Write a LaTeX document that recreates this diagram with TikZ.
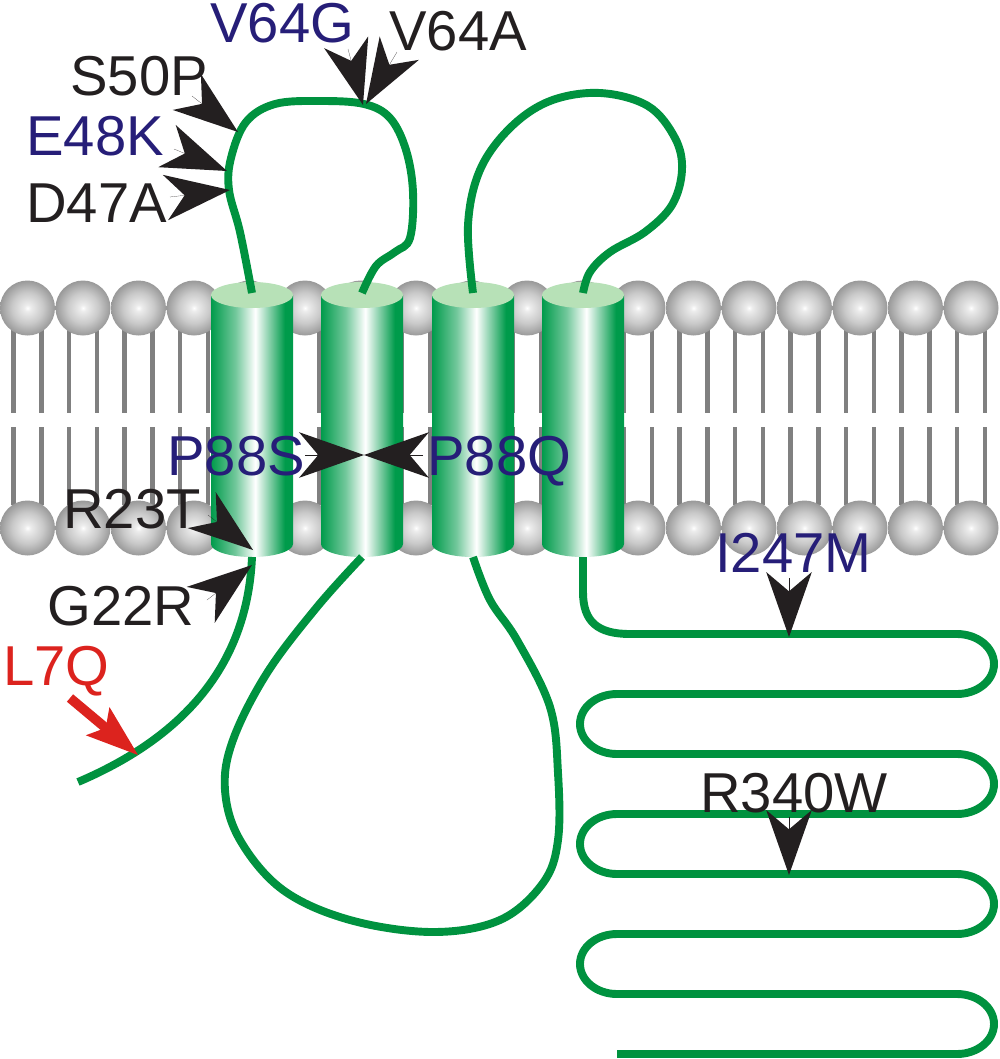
\documentclass[tikz,border=0pt]{standalone}
\usepackage{fontspec}
\setmainfont{Liberation Sans}
\usetikzlibrary{arrows.meta}
\definecolor{chaingreen}{RGB}{0,146,63}
\definecolor{cylgreen}{RGB}{0,155,75}
\definecolor{topgreen}{RGB}{183,225,183}
\definecolor{tailgray}{RGB}{128,128,128}
\definecolor{mutblue}{RGB}{38,30,120}
\definecolor{mutblack}{RGB}{35,31,32}
\definecolor{mutred}{RGB}{220,35,30}
\pgfdeclarehorizontalshading{helix}{100bp}{color(0bp)=(cylgreen); color(25bp)=(cylgreen);
  color(40bp)=(cylgreen!55!white); color(52bp)=(white); color(60bp)=(cylgreen!45!white);
  color(70bp)=(cylgreen); color(100bp)=(cylgreen)}
\pgfdeclareradialshading{lipidhead}{\pgfpoint{0bp}{0bp}}{color(0bp)=(white); color(3bp)=(gray!15);
  color(14bp)=(gray!42); color(25bp)=(gray!80); color(50bp)=(gray!80)}
\begin{document}
\begin{tikzpicture}[x=0.02cm, y=-0.02cm,
  tail/.style={draw=tailgray, line width=2.3pt},
  chain/.style={draw=chaingreen, line width=4.5pt},
  mut/.style={mutblack, line width=0.1pt, -{Stealth[length=37pt, width=26pt, inset=11pt, line width=0pt]}},
  lbl/.style={font=\fontsize{32}{38}\selectfont, inner sep=0pt, anchor=base west}]
\useasboundingbox (0,0) rectangle (1000,1059);

% lipid bilayer
\foreach \k in {0,...,17}{
  \pgfmathsetmacro\hx{27.5+55.5*\k}
  \draw[tail] (\hx-14,330) -- (\hx-14,413) (\hx+14,330) -- (\hx+14,413)
    (\hx-14,427) -- (\hx-14,505) (\hx+14,427) -- (\hx+14,505);
  \shade[shading=lipidhead] (\hx,308) circle[radius=27.5];
  \shade[shading=lipidhead] (\hx,528) circle[radius=27.5];
}

% helices
\foreach \x [count=\i] in {252,362,473,583}{
  \shade[shading=helix] (\x-41,295) -- (\x-41,544)
    arc[start angle=180, end angle=0, x radius=41, y radius=13] -- (\x+41,295) -- cycle;
  \fill[topgreen] (\x,295) ellipse[x radius=41, y radius=13];
  \coordinate (top\i) at (\x,293);
  \coordinate (bot\i) at (\x,557);
}

% chain
\coordinate (nterm) at (78,782);
\coordinate (cterm) at (617,1054);
\draw[chain] (bot1) .. controls (248,650) and (200,730) .. (nterm);
\draw[chain] plot[smooth, tension=0.6] coordinates {(top1) (240,232) (229,190) (231,158) (246,122)
  (275,104) (320,101) (364,104) (390,118) (406,150) (413,192) (410,238) (395,252) (376,266) (top2)};
\draw[chain] plot[smooth, tension=0.6] coordinates {(bot2) (317,607) (267,673) (233,740) (225,790)
  (240,840) (283,890) (350,920) (433,932) (500,920) (543,883) (558,840) (558,773) (550,707)
  (517,640) (490,600) (bot3)};
\draw[chain] plot[smooth, tension=0.6] coordinates {(top3) (468,225) (480,170) (510,128) (550,101)
  (600,93) (648,106) (675,138) (682,170) (672,205) (645,232) (610,252) (590,272) (top4)};
\draw[chain] (bot4) -- (583,592) .. controls (583,622) and (598,634) .. (630,634)
  \foreach \k in {0,1,2}{ -- (957,634+120*\k) arc[start angle=-90, end angle=90, x radius=37, y radius=30]
    -- (617,694+120*\k) arc[start angle=270, end angle=90, x radius=37, y radius=30] }
  -- (957,994) arc[start angle=-90, end angle=90, x radius=37, y radius=30] -- (cterm);

% mutations
\coordinate (s50p-b) at (192,96);   \coordinate (s50p-t) at (238,132);
\coordinate (e48k-b) at (174,149);  \coordinate (e48k-t) at (227,171);
\coordinate (d47a-b) at (170,197);  \coordinate (d47a-t) at (230,190);
\coordinate (v64g-b) at (348,49);   \coordinate (v64g-t) at (363,105);
\coordinate (v64a-b) at (397,52);   \coordinate (v64a-t) at (366,104);
\coordinate (p88s-b) at (305,455);  \coordinate (p88s-t) at (364,455);
\coordinate (p88q-b) at (423,455);  \coordinate (p88q-t) at (364,455);
\coordinate (r23t-b) at (208,515);  \coordinate (r23t-t) at (253,550);
\coordinate (g22r-b) at (207,600);  \coordinate (g22r-t) at (252,565);
\coordinate (i247m-b) at (789,578); \coordinate (i247m-t) at (789,637);
\coordinate (r340w-b) at (789,817); \coordinate (r340w-t) at (789,875);
\coordinate (l7q-b) at (70,698);    \coordinate (l7q-t) at (138,755);
\foreach \m in {s50p,e48k,d47a,v64g,v64a,p88s,p88q,r23t,g22r,i247m,r340w}
  \draw[mut] (\m-b) -- (\m-t);
\draw[mutred, line width=5.5pt, -{Stealth[length=30pt, width=21pt, inset=6pt, line width=0pt]}] (l7q-b) -- (l7q-t);

\node[lbl, mutblue] (v64g) at (210,42) {V64G};
\node[lbl, mutblack] (v64a) at (389,50) {V64A};
\node[lbl, mutblack] (s50p) at (70,95) {S50P};
\node[lbl, mutblue] (e48k) at (26,155) {E48K};
\node[lbl, mutblack] (d47a) at (26,222) {D47A};
\node[lbl, mutblue] (p88s) at (167,475) {P88S};
\node[lbl, mutblue] (p88q) at (427,475) {P88Q};
\node[lbl, mutblack] (r23t) at (63,528) {R23T};
\node[lbl, mutblack] (g22r) at (47,625) {G22R};
\node[lbl, mutred] (l7q) at (3,685) {L7Q};
\node[lbl, mutblue] (i247m) at (715,572) {I247M};
\node[lbl, mutblack] (r340w) at (700,812) {R340W};
\end{tikzpicture}
\end{document}
